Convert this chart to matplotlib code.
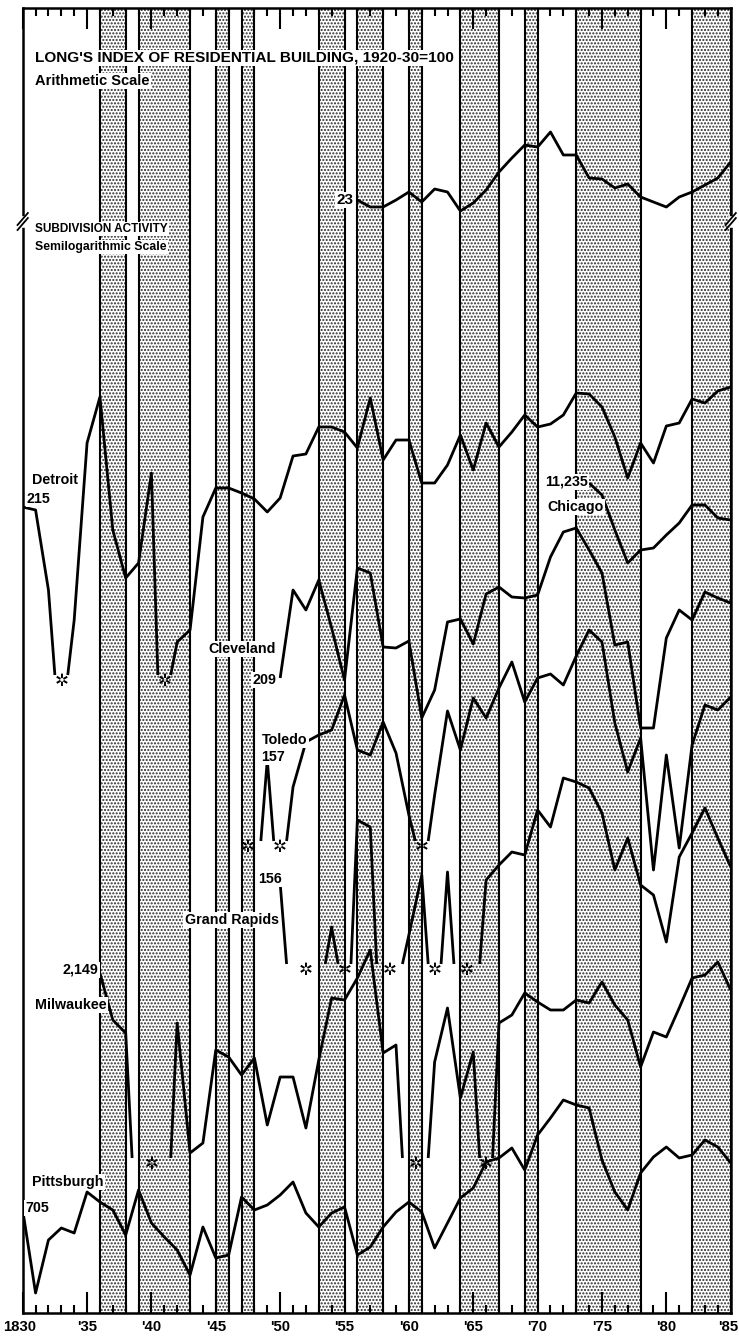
import numpy as np
import matplotlib.pyplot as plt

plt.rcParams['font.family'] = ['Liberation Sans', 'DejaVu Sans']
plt.rcParams['hatch.linewidth'] = 1.0

# Business-cycle contraction bands (annual reference dates)
contractions = [(1836, 1838), (1839, 1843), (1845, 1846), (1847, 1848), (1853, 1855),
                (1856, 1858), (1860, 1861), (1864, 1867), (1869, 1870), (1873, 1878),
                (1882, 1885)]

tick_years = list(range(1830, 1886, 5))
tick_labels = ['1830', "'35", "'40", "'45", "'50", "'55", "'60", "'65", "'70", "'75", "'80", "'85"]

# Chart levels (vertical position, top = small); 0 = no activity (asterisk)
long_start = 1856
long_index = [200, 207, 207, 200, 192, 202, 189, 192, 211, 203, 190, 172, 158, 145, 147,
              132, 155, 155, 178, 179, 188, 184, 197, 202, 207, 197, 192, 185, 178, 162]

detroit_start = 1830
detroit = [507, 510, 590, 0, 620, 443, 397, 530, 578, 563,
           473, 0, 642, 630, 517, 488, 488, 493, 499, 512,
           498, 456, 454, 427, 427, 432, 448, 398, 460, 440,
           440, 483, 483, 465, 435, 470, 423, 447, 432, 415,
           427, 424, 415, 393, 394, 407, 437, 478, 443, 463,
           426, 423, 399, 403, 391, 387]
detroit_floor = 675

chicago_start = 1874
chicago = [483, 495, 530, 563, 550, 548, 535, 523, 505, 505, 518, 520]

cleveland_start = 1850
cleveland = [678, 590, 610, 580, 628, 680, 568, 573, 647, 648,
             641, 718, 690, 622, 619, 644, 594, 587, 597, 598,
             595, 557, 532, 528, 550, 573, 645, 642, 728, 728,
             638, 610, 620, 592, 598, 603]

toledo_start = 1847
toledo = [0, 0, 760,
          0, 787, 742, 735, 730, 695, 750, 755, 722, 753,
          815, 0, 795, 711, 750, 698, 718, 688, 662, 702,
          678, 674, 685, 656, 630, 642, 723, 772, 738, 870,
          755, 848, 745, 705, 710, 697]
toledo_floor = 841

grand_rapids_start = 1850
grand_rapids = [883, 0, 0, 0, 927, 0, 820, 827, 0, 0,
                935, 875, 0, 872, 0, 0, 880, 865, 852, 855,
                810, 827, 778, 782, 788, 813, 870, 838, 885, 895,
                942, 857, 833, 808, 838, 867]
grand_rapids_floor = 964

milwaukee_start = 1836
milwaukee = [973, 1020, 1033, 0,
             0, 0, 1023, 1153, 1143, 1050, 1057, 1075, 1058, 1125,
             1077, 1077, 1128, 1060, 998, 1000, 978, 950, 1053, 1045,
             0, 0, 1062, 1008, 1098, 1052, 0, 1023, 1015, 993,
             1002, 1010, 1010, 1000, 1003, 982, 1005, 1020, 1067, 1032,
             1037, 1008, 978, 975, 962, 990]
milwaukee_floor = 1158

pittsburgh_start = 1830
pittsburgh = [1210, 1293, 1240, 1228, 1233, 1192, 1202, 1210, 1235, 1190,
              1223, 1237, 1250, 1275, 1227, 1258, 1255, 1197, 1210, 1205,
              1195, 1182, 1213, 1227, 1213, 1207, 1255, 1247, 1227, 1212,
              1202, 1212, 1248, 1223, 1198, 1188, 1162, 1158, 1148, 1170,
              1135, 1118, 1100, 1105, 1108, 1160, 1192, 1210, 1173, 1157,
              1147, 1158, 1155, 1140, 1147, 1163]

fig = plt.figure(figsize=(7.39, 13.36), dpi=100)
ax = fig.add_axes([22.7 / 739, 1 - 1313 / 1336, 708 / 739, 1305 / 1336])
ax.set_xlim(1830, 1885)
ax.set_ylim(1313, 8)

# shaded contraction bands
for a, b in contractions:
    ax.axvspan(a, b, facecolor='white', hatch='.....', edgecolor='#2a2a2a', linewidth=0, zorder=1)
    ax.axvline(a, color='black', lw=1.5, zorder=1.5)
    ax.axvline(b, color='black', lw=1.5, zorder=1.5)

LW = 2.0


def draw_city(start, vals, floor=None):
    pieces, cur = [], []
    n = len(vals)
    for i, v in enumerate(vals):
        yr = start + i
        if v > 0:
            cur.append((yr, v))
        else:
            if cur:
                cur.append((yr - 0.5, floor))
                pieces.append(cur)
                cur = []
            if i + 1 < n and vals[i + 1] > 0:
                cur = [(yr + 0.5, floor)]
    if cur:
        pieces.append(cur)
    for p in pieces:
        xs, ys = zip(*p)
        ax.plot(xs, ys, color='black', lw=LW, zorder=3, solid_capstyle='butt')
    # asterisk for each run of zero years
    i = 0
    while i < n:
        if vals[i] == 0:
            j = i
            while j + 1 < n and vals[j + 1] == 0:
                j += 1
            ax.annotate('✲', (start + (i + j) / 2, floor), xytext=(0, -4),
                        textcoords='offset points', ha='center', va='center',
                        fontsize=12, family='DejaVu Sans', zorder=4)
            i = j + 1
        else:
            i += 1


draw_city(long_start, long_index)
draw_city(detroit_start, detroit, detroit_floor)
draw_city(chicago_start, chicago)
draw_city(cleveland_start, cleveland)
draw_city(toledo_start, toledo, toledo_floor)
draw_city(grand_rapids_start, grand_rapids, grand_rapids_floor)
draw_city(milwaukee_start, milwaukee, milwaukee_floor)
draw_city(pittsburgh_start, pittsburgh)


def label(x, y, s, size=10.3, ha='left'):
    ax.text(x, y, s, fontsize=size, fontweight='bold', ha=ha, va='center', zorder=5,
            bbox=dict(facecolor='white', edgecolor='none', pad=1.0))


label(1830.96, 58, "LONG'S INDEX OF RESIDENTIAL BUILDING, 1920-30=100", 11.1)
label(1830.96, 81, "Arithmetic Scale", 10.5)
label(1855.66, 200, "23", 11, ha='right')
label(1830.96, 229, "SUBDIVISION ACTIVITY", 8.5)
label(1830.96, 247, "Semilogarithmic Scale", 8.8)
label(1830.72, 480, "Detroit")
label(1830.33, 499, "215")
label(1870.58, 482, "11,235")
label(1870.74, 507, "Chicago")
label(1844.4, 649, "Cleveland")
label(1847.82, 680, "209")
label(1848.6, 740, "Toledo")
label(1848.5, 757, "157")
label(1848.28, 879, "156")
label(1842.6, 920, "Grand Rapids")
label(1833.13, 970, "2,149")
label(1830.96, 1005, "Milwaukee")
label(1830.72, 1182, "Pittsburgh")
label(1830.18, 1208, "705")

# axes frame and ticks
for sp in ax.spines.values():
    sp.set_linewidth(1.8)
ax.set_yticks([])
ax.set_xticks(tick_years)
ax.set_xticks(np.arange(1830, 1886), minor=True)
ax.set_xticklabels([])
ax.tick_params(axis='x', which='both', direction='in', top=True, bottom=True, width=1.5)
ax.tick_params(axis='x', which='major', length=15)
ax.tick_params(axis='x', which='minor', length=6)

# year labels under the frame
for yr, lbl in zip(tick_years, tick_labels):
    ha, xpos = 'center', yr
    if yr == 1830:
        xpos = yr - 0.25
    if yr == 1885:
        ha, xpos = 'right', yr + 0.55
    ax.annotate(lbl, (xpos, 0), xycoords=('data', 'axes fraction'), xytext=(0, -10),
                textcoords='offset points', ha=ha, va='center', fontsize=10.7,
                fontweight='bold', annotation_clip=False)

# scale-break marks on both side frames
for xb in (1830, 1885):
    ax.plot([xb, xb], [219, 225], color='white', lw=4, clip_on=False, zorder=6)
    ax.plot([xb - 0.4, xb + 0.4], [230, 218], color='black', lw=1.3, clip_on=False, zorder=7)
    ax.plot([xb - 0.4, xb + 0.4], [225, 213], color='black', lw=1.3, clip_on=False, zorder=7)

plt.savefig("out.png", dpi=100, facecolor='white')
